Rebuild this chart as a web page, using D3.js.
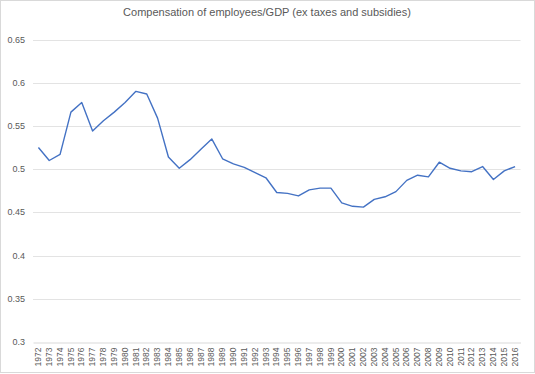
<!DOCTYPE html>
<html>
<head>
<meta charset="utf-8">
<script src="https://cdn.jsdelivr.net/npm/d3@7"></script>
<style>
  body { margin: 0; background: #fff; }
  text { font-family: "Liberation Sans", "DejaVu Sans", sans-serif; fill: #595959; }
</style>
</head>
<body>
<div id="chart"></div>
<script>
var w = 535,
    h = 374;

// Data
var years = d3.range(1972, 2017).map(String);
var values = [
  0.525, 0.510, 0.517, 0.566, 0.577, 0.544, 0.556, 0.566, 0.577, 0.590,
  0.587, 0.559, 0.514, 0.501, 0.511, 0.523, 0.535, 0.512, 0.506, 0.502,
  0.496, 0.490, 0.473, 0.472, 0.469, 0.476, 0.478, 0.478, 0.461, 0.457,
  0.456, 0.465, 0.468, 0.474, 0.487, 0.493, 0.491, 0.508, 0.501, 0.498,
  0.497, 0.503, 0.488, 0.498, 0.503
];
var yTicks = [0.3, 0.35, 0.4, 0.45, 0.5, 0.55, 0.6, 0.65];
var title = "Compensation of employees/GDP (ex taxes and subsidies)";

var margin = {top: 39.5, right: 14.5, bottom: 32, left: 33};

var svg = d3.select("#chart")
  .append("svg")
  .attr("width", w)
  .attr("height", h);

// outer frame
svg.append("rect")
  .attr("x", 0.5).attr("y", 0.5)
  .attr("width", w - 1).attr("height", h - 2)
  .attr("fill", "none")
  .attr("stroke", "#d9d9d9");

var x = d3.scaleBand()
  .domain(years)
  .range([margin.left, w - margin.right]);

var y = d3.scaleLinear()
  .domain([0.3, 0.65])
  .range([h - margin.bottom, margin.top]);

// gridlines
svg.append("g")
  .selectAll("line")
  .data(yTicks.slice(1))
  .enter()
  .append("line")
  .attr("x1", margin.left)
  .attr("x2", w - margin.right)
  .attr("y1", function(d) { return Math.round(y(d)) + 0.5; })
  .attr("y2", function(d) { return Math.round(y(d)) + 0.5; })
  .attr("stroke", "#e3e3e3")
  .attr("stroke-width", 1);

// y labels
svg.append("g")
  .selectAll("text")
  .data(yTicks)
  .enter()
  .append("text")
  .attr("x", 25)
  .attr("y", function(d) { return y(d) + 3; })
  .attr("text-anchor", "end")
  .attr("font-size", "9px")
  .text(function(d) { return d3.format("")(+d.toFixed(2)); });

// x axis
var xAxis = svg.append("g")
  .attr("transform", "translate(0," + (Math.round(y(0.3)) + 0.5) + ")")
  .call(d3.axisBottom(x).tickSize(0).tickPadding(0));
xAxis.select(".domain").attr("stroke", "#d9d9d9");
xAxis.selectAll("text")
  .attr("font-size", "8.5px")
  .attr("font-family", "Liberation Sans, sans-serif")
  .attr("fill", "#595959")
  .attr("transform", "rotate(-90)")
  .attr("text-anchor", "end")
  .attr("dy", "0.32em")
  .attr("x", -5)
  .attr("y", 0);

// line
var line = d3.line()
  .x(function(d, i) { return x(years[i]) + x.bandwidth() / 2; })
  .y(function(d) { return y(d); });

svg.append("path")
  .datum(values)
  .attr("d", line)
  .attr("fill", "none")
  .attr("stroke", "#4472C4")
  .attr("stroke-width", 1.4)
  .attr("stroke-linejoin", "round");

// title
svg.append("text")
  .attr("x", 267)
  .attr("y", 16)
  .attr("text-anchor", "middle")
  .attr("font-family", "'Liberation Sans Narrow', 'Liberation Sans', sans-serif")
  .attr("font-size", "11px")
  .text(title);
</script>
</body>
</html>
